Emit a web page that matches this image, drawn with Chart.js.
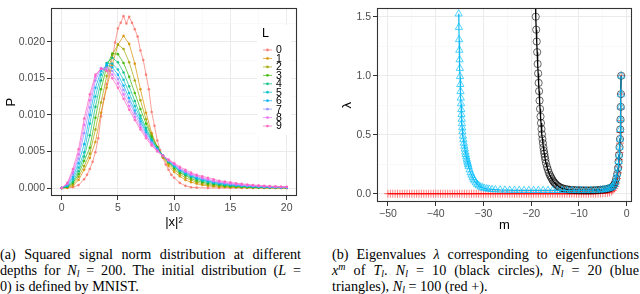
<!DOCTYPE html>
<html>
<head>
<meta charset="utf-8">
<script src="https://cdn.jsdelivr.net/npm/chart.js@4.4.0/dist/chart.umd.min.js"></script>
<style>
  html, body { margin: 0; padding: 0; background: #fff; }
  body { width: 640px; height: 294px; position: relative; overflow: hidden; }
  canvas { position: absolute; top: 0; }
  #left { left: 0; width: 305px; height: 235px; }
  #right { left: 320px; width: 320px; height: 235px; }
  .cap { position: absolute; top: 247px; font-family: "Liberation Serif", "Times New Roman", "DejaVu Serif", serif;
         font-size: 14.2px; line-height: 15.8px; color: #000; white-space: nowrap; }
  .cap .j { text-align: justify; text-align-last: justify; }
  .cap sub { font-size: 70%; vertical-align: -0.25em; line-height: 0; }
  .cap sup { font-size: 70%; vertical-align: 0.5em; line-height: 0; }
</style>
</head>
<body>
<canvas id="left" width="305" height="235"></canvas>
<canvas id="right" width="320" height="235"></canvas>

<div class="cap" style="left:0;width:301px">
  <div class="j">(a) Squared signal norm distribution at different</div>
  <div class="j">depths for <i>N<sub>l</sub></i> = 200. The initial distribution (<i>L</i> =</div>
  <div>0) is defined by MNIST.</div>
</div>
<div class="cap" style="left:332px;width:307px">
  <div class="j">(b) Eigenvalues <i>λ</i> corresponding to eigenfunctions</div>
  <div class="j"><i>x<sup>m</sup></i> of <i>T<sub>l</sub></i>. <i>N<sub>l</sub></i> = 10 (black circles), <i>N<sub>l</sub></i> = 20 (blue</div>
  <div>triangles), <i>N<sub>l</sub></i> = 100 (red +).</div>
</div>

<script>
// ---- left panel: P(|x|^2) per depth L ----
const depthLabels = ['0', '1', '2', '3', '4', '5', '6', '7', '8', '9'];
const depthColors = ['#F8766D', '#D89000', '#A3A500', '#39B600', '#00BF7D',
                     '#00BFC4', '#00B0F6', '#9590FF', '#E76BF3', '#FF62BC'];

// |x|^2 grid for L = 0 (MNIST, noisier, sampled finer near the peak)
const sqNormL0 = [0, 0.5, 1, 1.5, 2, 2.25, 2.5, 2.75, 3, 3.25, 3.5, 3.75, 4, 4.25, 4.5, 4.75, 5, 5.25, 5.5, 5.75,
  6, 6.25, 6.5, 6.75, 7, 7.25, 7.5, 7.75, 8, 8.25, 8.5, 8.75, 9, 9.25, 9.5, 9.75, 10, 10.5, 11, 11.5,
  12, 13, 14, 15, 16, 17, 18, 19, 20];
const probL0 = [0, 0, 0.0001, 0.0004, 0.0012, 0.0018, 0.0026, 0.0036, 0.0049, 0.0068, 0.0098, 0.0122, 0.0142, 0.016, 0.0178, 0.0199, 0.0218, 0.0226, 0.0235, 0.0225,
  0.0234, 0.0226, 0.0217, 0.0207, 0.0188, 0.0175, 0.0155, 0.0135, 0.0104, 0.0085, 0.0065, 0.0052, 0.0041, 0.0032, 0.0025, 0.0018, 0.0014, 0.0007, 0.0003, 0.0001,
  0.00005, 0, 0, 0, 0, 0, 0, 0, 0];

// |x|^2 grid for L = 1..9
const sqNorm = [0, 0.5, 1, 1.5, 2, 2.5, 3, 3.5, 4, 4.5, 5, 5.5, 6, 6.5, 7, 7.5, 8, 8.5, 9, 9.5,
  10, 10.5, 11, 11.5, 12, 12.5, 13, 13.5, 14, 14.5, 15, 15.5, 16, 16.5, 17, 17.5, 18, 18.5, 19, 19.5, 20];
const probL1 = [0, 0.00005, 0.0003, 0.0011, 0.0025, 0.0041, 0.0063, 0.0103, 0.0137, 0.0168, 0.0196, 0.0208, 0.0197, 0.017, 0.0135, 0.0103, 0.0075, 0.0056, 0.0042, 0.003,
  0.0022, 0.0016, 0.0011, 0.0008, 0.0006, 0.0004, 0.0003, 0.0002, 0.00015, 0.0001, 0.0001, 0.00008, 0.00006, 0.00005, 0.00004, 0.00003, 0.00002, 0.00002, 0.00001, 0.00001, 0.00001];
const probL2 = [0, 0.0001, 0.0005, 0.0015, 0.003, 0.0047, 0.008, 0.0117, 0.0153, 0.0182, 0.0196, 0.019, 0.0172, 0.0147, 0.012, 0.0094, 0.0072, 0.0056, 0.0043, 0.0033,
  0.0025, 0.0019, 0.0014, 0.0011, 0.0008, 0.0006, 0.00045, 0.00035, 0.00027, 0.0002, 0.00015, 0.00012, 0.0001, 0.00008, 0.00006, 0.00005, 0.00004, 0.00003, 0.00003, 0.00002, 0.00002];
const probL3 = [0, 0.00015, 0.0007, 0.0019, 0.0037, 0.0055, 0.0096, 0.0135, 0.0166, 0.0184, 0.0183, 0.0171, 0.0152, 0.013, 0.0108, 0.0088, 0.007, 0.0056, 0.0044, 0.0035,
  0.0027, 0.0021, 0.0017, 0.0013, 0.001, 0.0008, 0.0006, 0.0005, 0.0004, 0.0003, 0.00025, 0.0002, 0.00016, 0.00013, 0.0001, 0.00008, 0.00007, 0.00006, 0.00005, 0.00004, 0.00004];
const probL4 = [0, 0.0002, 0.0009, 0.0023, 0.0043, 0.0072, 0.0111, 0.0147, 0.0171, 0.0178, 0.0172, 0.0158, 0.0139, 0.0119, 0.0099, 0.0082, 0.0067, 0.0055, 0.0044, 0.0036,
  0.0029, 0.0023, 0.0018, 0.0015, 0.0012, 0.00095, 0.00077, 0.00062, 0.0005, 0.0004, 0.00033, 0.00027, 0.00022, 0.00018, 0.00015, 0.00012, 0.0001, 0.00008, 0.00007, 0.00006, 0.00005];
const probL5 = [0, 0.0003, 0.0012, 0.0028, 0.0049, 0.0088, 0.0125, 0.0155, 0.017, 0.017, 0.0162, 0.0148, 0.013, 0.0112, 0.0095, 0.0079, 0.0065, 0.0054, 0.0044, 0.0036,
  0.003, 0.0024, 0.002, 0.0016, 0.0013, 0.0011, 0.0009, 0.00072, 0.0006, 0.0005, 0.0004, 0.00033, 0.00027, 0.00022, 0.00018, 0.00015, 0.00012, 0.0001, 0.00009, 0.00007, 0.00006];
const probL6 = [0, 0.0004, 0.0015, 0.0034, 0.006, 0.01, 0.0137, 0.016, 0.0168, 0.0165, 0.0155, 0.014, 0.0123, 0.0106, 0.0091, 0.0076, 0.0064, 0.0053, 0.0044, 0.0037,
  0.0031, 0.0025, 0.0021, 0.0017, 0.0014, 0.0012, 0.001, 0.0008, 0.00068, 0.00057, 0.00047, 0.00039, 0.00033, 0.00027, 0.00022, 0.00018, 0.00015, 0.00013, 0.00011, 0.00009, 0.00008];
const probL7 = [0, 0.0005, 0.0019, 0.004, 0.0075, 0.011, 0.0147, 0.0163, 0.0165, 0.016, 0.0149, 0.0134, 0.0118, 0.0102, 0.0087, 0.0073, 0.0062, 0.0052, 0.0044, 0.0037,
  0.0032, 0.0026, 0.0022, 0.0018, 0.0016, 0.0013, 0.0011, 0.0009, 0.00077, 0.00065, 0.00055, 0.00046, 0.00039, 0.00032, 0.00027, 0.00022, 0.00019, 0.00016, 0.00013, 0.00011, 0.0001];
const probL8 = [0, 0.0006, 0.0022, 0.0046, 0.0086, 0.012, 0.0152, 0.0164, 0.0162, 0.0155, 0.0143, 0.0128, 0.0112, 0.0097, 0.0083, 0.0071, 0.006, 0.0051, 0.0044, 0.0038,
  0.0033, 0.0027, 0.0023, 0.0019, 0.0017, 0.0014, 0.0012, 0.001, 0.00087, 0.00074, 0.00063, 0.00053, 0.00045, 0.00038, 0.00032, 0.00027, 0.00023, 0.00019, 0.00016, 0.00014, 0.00012];
const probL9 = [0, 0.0007, 0.0026, 0.0053, 0.0095, 0.0128, 0.0155, 0.0163, 0.016, 0.015, 0.0137, 0.0122, 0.0107, 0.0093, 0.008, 0.0068, 0.0058, 0.005, 0.0044, 0.0039,
  0.0034, 0.0029, 0.0025, 0.0021, 0.0018, 0.0016, 0.0014, 0.0012, 0.001, 0.00088, 0.00077, 0.00066, 0.00057, 0.00049, 0.00042, 0.00036, 0.00031, 0.00027, 0.00023, 0.0002, 0.00018];

const xTicksLeft = [0, 5, 10, 15, 20];
const xMinorLeft = [2.5, 7.5, 12.5, 17.5];
const yTicksLeft = [0, 0.005, 0.01, 0.015, 0.02];
const yMinorLeft = [0.0025, 0.0075, 0.0125, 0.0175, 0.0225];

// ---- right panel: eigenvalue lambda vs m ----
const mN10 = [-19.2, -19.05, -18.95, -18.85, -18.75, -18.65, -18.55, -18.45, -18.35, -18.25,
  -18.15, -18.05, -17.95, -17.85, -17.75, -17.65, -17.55, -17.45, -17.35, -17.25,
  -17.15, -17.05, -16.9, -16.7, -16.5, -16.3, -16.1, -15.9, -15.7, -15.5,
  -15.3, -15.1, -14.9, -14.6, -14.3, -14, -13.6, -13.2, -12.8, -12.4,
  -12, -11.5, -11, -10.5, -10, -9.5, -9, -8.5, -8, -7.5,
  -7, -6.5, -6, -5.5, -5, -4.5, -4, -3.6, -3.2, -2.9,
  -2.6, -2.4, -2.2, -2, -1.8, -1.7, -1.6, -1.5, -1.4, -1.35,
  -1.3, -1.25, -1.2, -1.15];
const lamN10 = [1.75, 1.5, 1.39, 1.29, 1.2, 1.1, 1.02, 0.94, 0.87, 0.79,
  0.72, 0.655, 0.6, 0.55, 0.505, 0.465, 0.43, 0.395, 0.365, 0.34,
  0.315, 0.29, 0.26, 0.23, 0.205, 0.18, 0.16, 0.145, 0.13, 0.115,
  0.103, 0.093, 0.084, 0.073, 0.064, 0.057, 0.05, 0.045, 0.041, 0.038,
  0.036, 0.034, 0.033, 0.032, 0.031, 0.031, 0.03, 0.03, 0.03, 0.03,
  0.031, 0.032, 0.033, 0.035, 0.037, 0.04, 0.043, 0.048, 0.055, 0.065,
  0.08, 0.1, 0.13, 0.17, 0.22, 0.275, 0.33, 0.397, 0.465, 0.546,
  0.63, 0.737, 0.845, 1.0];

const mN20 = [-35.2, -35.15, -35.1, -35.05, -35, -34.95, -34.9, -34.85, -34.8, -34.75,
  -34.7, -34.65, -34.6, -34.55, -34.5, -34.45, -34.4, -34.3, -34.2, -34.1,
  -34, -33.9, -33.8, -33.7, -33.6, -33.5, -33.4, -33.3, -33.2, -33.1,
  -32.9, -32.7, -32.5, -32.3, -32.1, -31.9, -31.6, -31.3, -31, -30.6,
  -30.2, -29.8, -29.3, -28.8, -28.2, -27.5, -26.5, -25.5, -24.5, -23.5,
  -22.5, -21.5, -20.5, -19.5, -18.5, -17.5, -16.5, -15.5, -14.5, -13.5,
  -12.5, -11.5, -10.5, -9.5, -8.5, -7.5, -6.5, -5.5, -5, -4.5,
  -4, -3.6, -3.2, -2.9, -2.6, -2.4, -2.2, -2, -1.8, -1.7,
  -1.6, -1.5, -1.4, -1.35, -1.3, -1.25, -1.2, -1.15];
const lamN20 = [1.524, 1.41, 1.307, 1.217, 1.136, 1.063, 0.994, 0.927, 0.867, 0.812,
  0.764, 0.715, 0.672, 0.633, 0.595, 0.56, 0.527, 0.49, 0.46, 0.43,
  0.405, 0.38, 0.355, 0.335, 0.315, 0.295, 0.278, 0.262, 0.247, 0.232,
  0.205, 0.18, 0.16, 0.142, 0.126, 0.112, 0.095, 0.082, 0.071, 0.06,
  0.053, 0.048, 0.044, 0.041, 0.038, 0.036, 0.034, 0.033, 0.032, 0.031,
  0.031, 0.03, 0.03, 0.03, 0.03, 0.03, 0.03, 0.03, 0.03, 0.03,
  0.03, 0.03, 0.03, 0.03, 0.03, 0.031, 0.032, 0.034, 0.036, 0.039,
  0.043, 0.048, 0.055, 0.065, 0.08, 0.1, 0.13, 0.17, 0.22, 0.275,
  0.33, 0.397, 0.465, 0.546, 0.63, 0.737, 0.845, 1.0];

const mN100 = [-50, -49.5, -49, -48.5, -48, -47.5, -47, -46.5, -46, -45.5,
  -45, -44.5, -44, -43.5, -43, -42.5, -42, -41.5, -41, -40.5,
  -40, -39.5, -39, -38.5, -38, -37.5, -37, -36.5, -36, -35.5,
  -35, -34.5, -34, -33.5, -33, -32.5, -32, -31.5, -31, -30.5,
  -30, -29.5, -29, -28.5, -28, -27.5, -27, -26.5, -26, -25.5,
  -25, -24.5, -24, -23.5, -23, -22.5, -22, -21.5, -21, -20.5,
  -20, -19.5, -19, -18.5, -18, -17.5, -17, -16.5, -16, -15.5,
  -15, -14.5, -14, -13.5, -13, -12.5, -12, -11.5, -11, -10.5,
  -10, -9.5, -9, -8.5, -8, -7.5, -7, -6.5, -6, -5.5,
  -5, -4.5, -4, -3.6, -3.2, -2.9, -2.6, -2.4, -2.2, -2,
  -1.8, -1.7, -1.6, -1.5, -1.4, -1.35, -1.3, -1.25, -1.2, -1.15];
const lamN100 = [0.002, 0.002, 0.002, 0.002, 0.002, 0.002, 0.002, 0.002, 0.002, 0.002,
  0.002, 0.002, 0.002, 0.002, 0.002, 0.002, 0.002, 0.002, 0.002, 0.002,
  0.002, 0.002, 0.002, 0.002, 0.002, 0.002, 0.002, 0.002, 0.002, 0.002,
  0.002, 0.002, 0.002, 0.002, 0.002, 0.002, 0.002, 0.002, 0.002, 0.002,
  0.002, 0.002, 0.002, 0.002, 0.002, 0.002, 0.002, 0.002, 0.002, 0.002,
  0.002, 0.002, 0.002, 0.002, 0.002, 0.002, 0.002, 0.002, 0.002, 0.002,
  0.002, 0.002, 0.002, 0.002, 0.002, 0.002, 0.002, 0.002, 0.002, 0.002,
  0.002, 0.002, 0.002, 0.002, 0.002, 0.002, 0.002, 0.002, 0.002, 0.002,
  0.002, 0.002, 0.002, 0.002, 0.002, 0.002, 0.002, 0.002, 0.003, 0.004,
  0.005, 0.007, 0.01, 0.014, 0.021, 0.03, 0.045, 0.065, 0.092, 0.13,
  0.18, 0.23, 0.29, 0.35, 0.43, 0.52, 0.62, 0.72, 0.845, 1.0];

const xTicksRight = [-50, -40, -30, -20, -10, 0];
const xMinorRight = [-45, -35, -25, -15, -5];
const yTicksRight = [0, 0.5, 1, 1.5];
const yMinorRight = [0.25, 0.75, 1.25];

// ---- helpers ----
const FONT = '"Liberation Sans", Arial, sans-serif';

function rgba(hex, a) {
  const n = parseInt(hex.slice(1), 16);
  return `rgba(${(n >> 16) & 255},${(n >> 8) & 255},${n & 255},${a})`;
}

function pairs(xs, ys) {
  return xs.map((x, i) => ({ x, y: ys[i] }));
}

// ggplot-like axis: major + minor grid, ticks only on majors
function ggAxis(majors, minors, fmt, opts) {
  const isMajor = v => majors.some(m => Math.abs(m - v) < 1e-9);
  return Object.assign({
    type: 'linear',
    afterBuildTicks: s => {
      s.ticks = majors.concat(minors).sort((a, b) => a - b).map(v => ({ value: v }));
    },
    ticks: {
      autoSkip: false, maxRotation: 0, padding: 2,
      color: '#4D4D4D', font: { family: FONT, size: 10.5 },
      callback: v => isMajor(v) ? fmt(v) : ''
    },
    grid: {
      color: c => isMajor(c.tick.value) ? '#EBEBEB' : '#F5F5F5',
      lineWidth: c => isMajor(c.tick.value) ? 1 : 0.6,
      tickColor: c => isMajor(c.tick.value) ? '#333333' : 'rgba(0,0,0,0)',
      tickLength: 4,
      drawTicks: true
    },
    border: { display: false }
  }, opts);
}

const framePlugin = {
  id: 'frame',
  afterDatasetsDraw(chart) {
    const { ctx, chartArea: a } = chart;
    ctx.save();
    ctx.strokeStyle = '#333333';
    ctx.lineWidth = 1.1;
    ctx.strokeRect(Math.round(a.left) + 0.5, Math.round(a.top) + 0.5,
                   Math.round(a.right - a.left) - 1, Math.round(a.bottom - a.top) - 1);
    ctx.restore();
  }
};

// legend drawn inside the left panel, like the ggplot guide
const depthLegend = {
  id: 'depthLegend',
  afterDraw(chart) {
    const ctx = chart.ctx;
    ctx.save();
    ctx.fillStyle = '#fff';
    ctx.fillRect(257, 25, 34, 110);
    ctx.fillStyle = '#000';
    ctx.font = `12.5px ${FONT}`;
    ctx.textBaseline = 'middle';
    ctx.fillText('L', 262, 34);
    ctx.font = `10.5px ${FONT}`;
    chart.data.datasets.forEach((ds, i) => {
      const y = 50 + i * 8.45;
      ctx.strokeStyle = ds.borderColor;
      ctx.lineWidth = 1;
      ctx.beginPath();
      ctx.moveTo(263, y);
      ctx.lineTo(272, y);
      ctx.stroke();
      ctx.fillStyle = ds.backgroundColor;
      ctx.beginPath();
      ctx.arc(267.5, y, 1.4, 0, Math.PI * 2);
      ctx.fill();
      ctx.fillStyle = '#000';
      ctx.fillText(ds.label, 276, y + 0.5);
    });
    ctx.restore();
  }
};

// ---- left chart ----
const probByDepth = [probL0, probL1, probL2, probL3, probL4, probL5, probL6, probL7, probL8, probL9];

new Chart(document.getElementById('left'), {
  type: 'line',
  data: {
    datasets: probByDepth.map((ys, i) => ({
      label: depthLabels[i],
      data: pairs(i === 0 ? sqNormL0 : sqNorm, ys),
      borderColor: rgba(depthColors[i], 0.7),
      backgroundColor: rgba(depthColors[i], 0.85),
      borderWidth: 1,
      pointRadius: 1.3,
      pointBorderWidth: 0,
      pointHoverRadius: 0,
      tension: 0,
      order: 9 - i
    }))
  },
  options: {
    responsive: false,
    animation: false,
    layout: { padding: { top: 1, right: 8, left: 0, bottom: 0 } },
    plugins: { legend: { display: false }, tooltip: { enabled: false } },
    scales: {
      x: ggAxis(xTicksLeft, xMinorLeft, v => String(v), {
        min: -0.95, max: 20.92,
        afterFit: s => { s.height = 39; },
        title: { display: true, text: '|x|²', color: '#000', font: { family: FONT, size: 13 }, padding: { top: 0, bottom: 5 } }
      }),
      y: ggAxis(yTicksLeft, yMinorLeft, v => v.toFixed(3), {
        min: -0.00109, max: 0.02457,
        afterFit: s => { s.width = 51; },
        title: { display: true, text: 'P', color: '#000', font: { family: FONT, size: 13 }, padding: { top: 4, bottom: 0 } }
      })
    }
  },
  plugins: [framePlugin, depthLegend]
});

// ---- right chart (first dataset is drawn on top) ----
new Chart(document.getElementById('right'), {
  type: 'scatter',
  data: {
    datasets: [
      {
        label: 'N=20', data: pairs(mN20, lamN20), showLine: true,
        borderColor: 'rgba(0,180,240,0.9)', borderWidth: 1.2,
        pointStyle: 'triangle', pointRadius: 4.2, pointBorderWidth: 0.8,
        pointBorderColor: 'rgba(0,191,255,0.85)', pointBackgroundColor: 'rgba(0,0,0,0)'
      },
      {
        label: 'N=10', data: pairs(mN10, lamN10), showLine: true,
        borderColor: '#000', borderWidth: 1.3,
        pointStyle: 'circle', pointRadius: 3.6, pointBorderWidth: 0.8,
        pointBorderColor: 'rgba(0,0,0,0.75)', pointBackgroundColor: 'rgba(0,0,0,0)'
      },
      {
        label: 'N=100', data: pairs(mN100, lamN100), showLine: true,
        borderColor: 'rgba(255,0,0,0.75)', borderWidth: 1,
        pointStyle: 'cross', pointRadius: 4, pointBorderWidth: 1,
        pointBorderColor: 'rgba(255,0,0,0.5)', pointBackgroundColor: 'rgba(0,0,0,0)'
      }
    ]
  },
  options: {
    responsive: false,
    animation: false,
    layout: { padding: { top: 1, right: 8, left: 0, bottom: 0 } },
    plugins: { legend: { display: false }, tooltip: { enabled: false } },
    elements: { point: { hoverRadius: 0 } },
    scales: {
      x: ggAxis(xTicksRight, xMinorRight, v => String(v).replace('-', '\u2212'), {
        min: -52.3, max: 1.11,
        afterFit: s => { s.height = 33; },
        title: { display: true, text: 'm', color: '#000', font: { family: FONT, size: 13 }, padding: { top: 0, bottom: 2 } }
      }),
      y: ggAxis(yTicksRight, yMinorRight, v => v.toFixed(1), {
        min: -0.068, max: 1.571,
        afterFit: s => { s.width = 57; },
        title: { display: true, text: 'λ', color: '#000', font: { family: FONT, size: 13 }, padding: { top: 20, bottom: 0 } }
      })
    }
  },
  plugins: [framePlugin]
});
</script>
</body>
</html>
